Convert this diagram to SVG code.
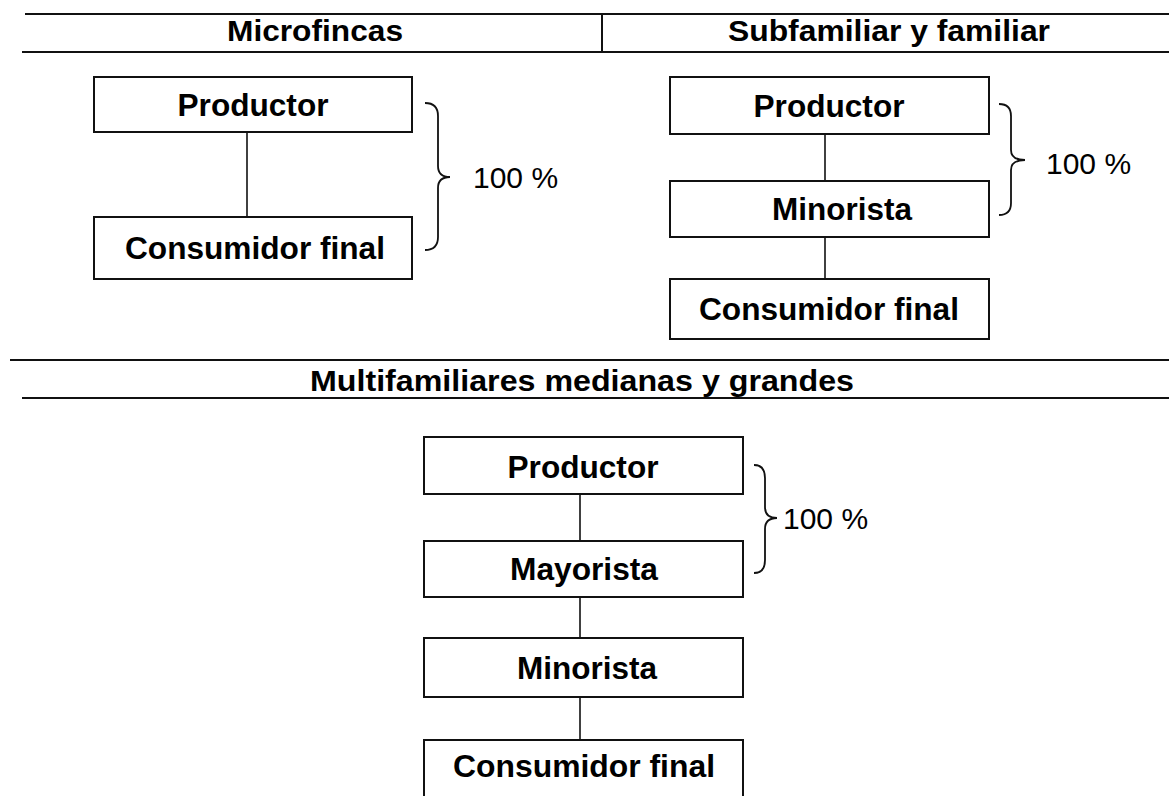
<svg xmlns="http://www.w3.org/2000/svg" width="1169" height="796" viewBox="0 0 1169 796">
<style>
.box{fill:#fff;stroke:#111;stroke-width:2}
.rule{stroke:#111;stroke-width:2;fill:none}
.conn{stroke:#111;stroke-width:1.6;fill:none}
.brace{stroke:#111;stroke-width:1.8;fill:none}
.t{font-family:"Liberation Sans",Arial,sans-serif;font-weight:bold;font-size:31px;fill:#000;text-anchor:middle}
.h{font-family:"Liberation Sans",Arial,sans-serif;font-weight:bold;font-size:30px;fill:#000;text-anchor:middle}
.p{font-family:"Liberation Sans",Arial,sans-serif;font-size:30px;fill:#000}
</style>
<rect width="1169" height="796" fill="#fff"/>
<g id="headers">
<line class="rule" x1="25" y1="14" x2="1169" y2="14"/>
<line class="rule" x1="22" y1="52" x2="1169" y2="52"/>
<line class="rule" x1="602" y1="14" x2="602" y2="52"/>
<text class="h" x="315" y="41" textLength="176" lengthAdjust="spacingAndGlyphs">Microfincas</text>
<text class="h" x="889" y="41" textLength="322" lengthAdjust="spacingAndGlyphs">Subfamiliar y familiar</text>
<line class="rule" x1="10" y1="360" x2="1169" y2="360"/>
<line class="rule" x1="22" y1="398" x2="1169" y2="398"/>
<text class="h" x="582" y="391" textLength="544" lengthAdjust="spacingAndGlyphs">Multifamiliares medianas y grandes</text>
</g>
<g id="connectors">
<line class="conn" x1="247" y1="132" x2="247" y2="217"/>
<line class="conn" x1="825" y1="134" x2="825" y2="181"/>
<line class="conn" x1="825" y1="237" x2="825" y2="279"/>
<line class="conn" x1="580" y1="494" x2="580" y2="541"/>
<line class="conn" x1="580" y1="597" x2="580" y2="638"/>
<line class="conn" x1="580" y1="697" x2="580" y2="740"/>
</g>
<g id="a-productor"><rect class="box" x="94" y="77" width="318" height="55"/><text class="t" x="253" y="116" textLength="151" lengthAdjust="spacingAndGlyphs">Productor</text></g>
<g id="a-consumidor"><rect class="box" x="94" y="217" width="318" height="62"/><text class="t" x="255" y="259" textLength="260" lengthAdjust="spacingAndGlyphs">Consumidor final</text></g>
<g id="a-brace"><path class="brace" d="M425,103 Q438,103 438,116 L438,166 Q438,177 450,177 Q438,177 438,188 L438,237 Q438,250 425,250"/><text class="p" x="473" y="188">100 %</text></g>
<g id="b-productor"><rect class="box" x="670" y="77" width="319" height="57"/><text class="t" x="829" y="117" textLength="151" lengthAdjust="spacingAndGlyphs">Productor</text></g>
<g id="b-minorista"><rect class="box" x="670" y="181" width="319" height="56"/><text class="t" x="842" y="220" textLength="140" lengthAdjust="spacingAndGlyphs">Minorista</text></g>
<g id="b-consumidor"><rect class="box" x="670" y="279" width="319" height="60"/><text class="t" x="829" y="320" textLength="260" lengthAdjust="spacingAndGlyphs">Consumidor final</text></g>
<g id="b-brace"><path class="brace" d="M999,104 Q1011,104 1011,116 L1011,150 Q1011,160 1025,160 Q1011,160 1011,170 L1011,203 Q1011,215 999,215"/><text class="p" x="1046" y="174">100 %</text></g>
<g id="c-productor"><rect class="box" x="424" y="437" width="319" height="57"/><text class="t" x="583" y="478" textLength="151" lengthAdjust="spacingAndGlyphs">Productor</text></g>
<g id="c-mayorista"><rect class="box" x="424" y="541" width="319" height="56"/><text class="t" x="584" y="580" textLength="148" lengthAdjust="spacingAndGlyphs">Mayorista</text></g>
<g id="c-minorista"><rect class="box" x="424" y="638" width="319" height="59"/><text class="t" x="587" y="679" textLength="140" lengthAdjust="spacingAndGlyphs">Minorista</text></g>
<g id="c-consumidor"><rect class="box" x="424" y="740" width="319" height="70"/><text class="t" x="584" y="777" textLength="262" lengthAdjust="spacingAndGlyphs">Consumidor final</text></g>
<g id="c-brace"><path class="brace" d="M754,465 Q765,465 765,478 L765,507 Q765,518 777,518 Q765,518 765,529 L765,560 Q765,573 754,573"/><text class="p" x="783" y="529">100 %</text></g>
</svg>
